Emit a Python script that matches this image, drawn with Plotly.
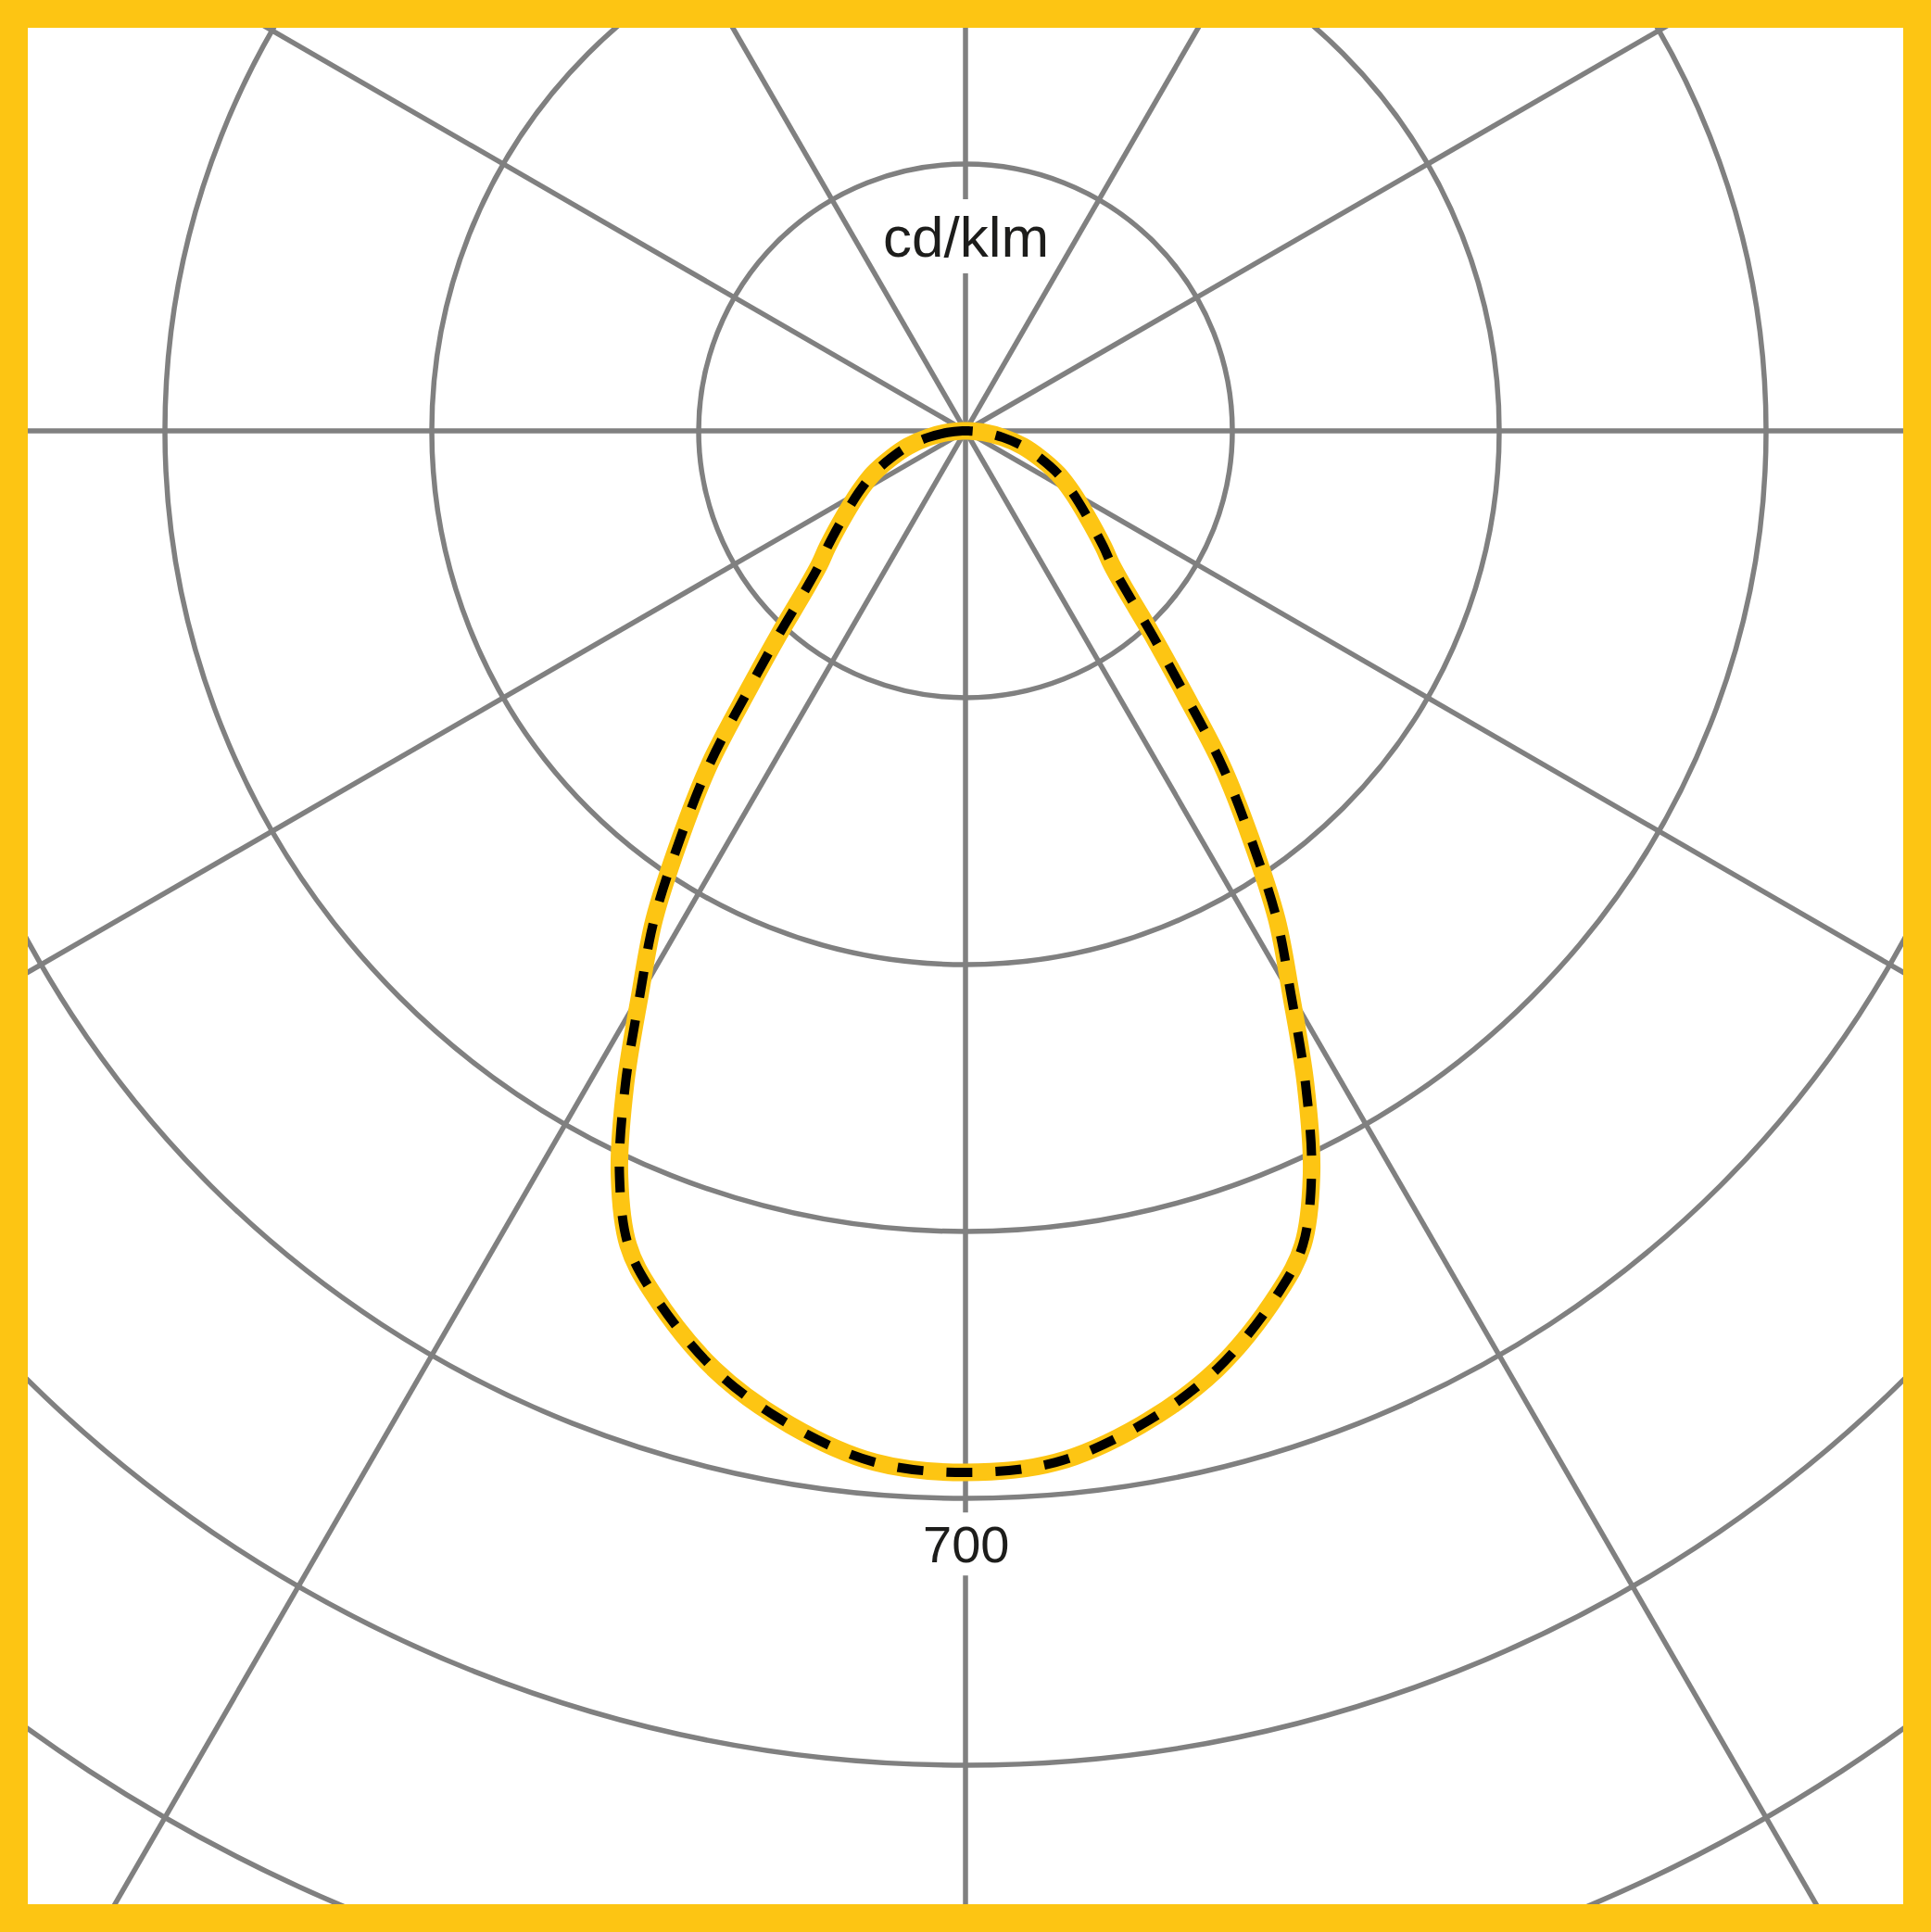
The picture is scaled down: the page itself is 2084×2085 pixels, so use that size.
import math
import plotly.graph_objs as go

# luminous intensity, cd/klm, gamma from nadir (drawn mirrored)
gamma = [0, 5, 10, 15, 20, 22.5, 25, 27.5, 30, 32.5, 35, 37.5, 40, 42.5, 45,
         47.5, 50, 55, 60, 65, 70, 75, 80, 85, 90]
intensity = [683, 679, 662, 637, 601, 578, 537, 483, 427, 380, 326, 276, 221, 181, 150,
             130, 118, 97, 81, 67, 52, 39, 25, 12, 2]

# grid
rings = [175, 350, 525, 700, 875, 1050]
spokes = [30, 60, 90, 120, 150]
unit_label = "cd/klm"
scale_label = "700"
scale_value = 700

YELLOW = "#FDC513"
GREY = "#808080"

W, H = 2084, 2085
border = 30
px_per_unit = 1152 / 700.0
centre_from_top = 435  # px inside plot area

plot_w = W - 2 * border
plot_h = H - 2 * border
x_range = [-plot_w / 2 / px_per_unit, plot_w / 2 / px_per_unit]
y_range = [-(plot_h - centre_from_top) / px_per_unit, centre_from_top / px_per_unit]

# label positions (y, half height of the gap left in the vertical spoke)
unit_y, unit_gap = 210 / px_per_unit, 40 / px_per_unit
scale_y, scale_gap = -scale_value - 30, 34 / px_per_unit

# full curve: left half then right half
theta = [-g for g in reversed(gamma)] + gamma[1:]
r = list(reversed(intensity)) + intensity[1:]
xs = [v * math.sin(math.radians(t)) for v, t in zip(r, theta)]
ys = [-v * math.cos(math.radians(t)) for v, t in zip(r, theta)]
xs.append(xs[0])
ys.append(ys[0])

grid_line = dict(color=GREY, width=5.5)
shapes = []
for ring in rings:
    shapes.append(dict(type="circle", xref="x", yref="y", x0=-ring, x1=ring, y0=-ring, y1=ring,
                       line=grid_line, layer="below"))
reach = 3000
for a in spokes:
    dx = reach * math.sin(math.radians(a))
    dy = reach * math.cos(math.radians(a))
    shapes.append(dict(type="line", xref="x", yref="y", x0=-dx, x1=dx, y0=-dy, y1=dy,
                       line=grid_line, layer="below"))
# vertical spoke, broken where the labels sit
cuts = [reach, unit_y + unit_gap, unit_y - unit_gap, scale_y + scale_gap, scale_y - scale_gap, -reach]
for i in range(0, len(cuts), 2):
    shapes.append(dict(type="line", xref="x", yref="y", x0=0, x1=0, y0=cuts[i], y1=cuts[i + 1],
                       line=grid_line, layer="below"))

trace_glow = go.Scatter(x=xs, y=ys, mode="lines",
                        line=dict(color=YELLOW, width=19, shape="spline"),
                        hoverinfo="skip", showlegend=False)
trace_dash = go.Scatter(x=xs, y=ys, mode="lines",
                        line=dict(color="#000000", width=10, dash="28px,25px", shape="spline"),
                        hoverinfo="skip", showlegend=False)

font = dict(family="Liberation Sans, Arial, sans-serif", color="#1d1d1b")
annotations = [
    dict(x=0, y=unit_y, xref="x", yref="y", text=unit_label, showarrow=False,
         font=dict(size=62, **font)),
    dict(x=0, y=scale_y, xref="x", yref="y", text=scale_label, showarrow=False,
         font=dict(size=56, **font)),
]

layout = go.Layout(
    width=W, height=H,
    margin=dict(l=border, r=border, t=border, b=border, pad=0),
    paper_bgcolor=YELLOW, plot_bgcolor="white",
    xaxis=dict(range=x_range, visible=False, showgrid=False, zeroline=False),
    yaxis=dict(range=y_range, visible=False, showgrid=False, zeroline=False),
    shapes=shapes, annotations=annotations,
)
fig = go.Figure(data=[trace_glow, trace_dash], layout=layout)
fig.write_html("out.html", config={"displayModeBar": False},
               post_script="document.body.style.margin='0';")
